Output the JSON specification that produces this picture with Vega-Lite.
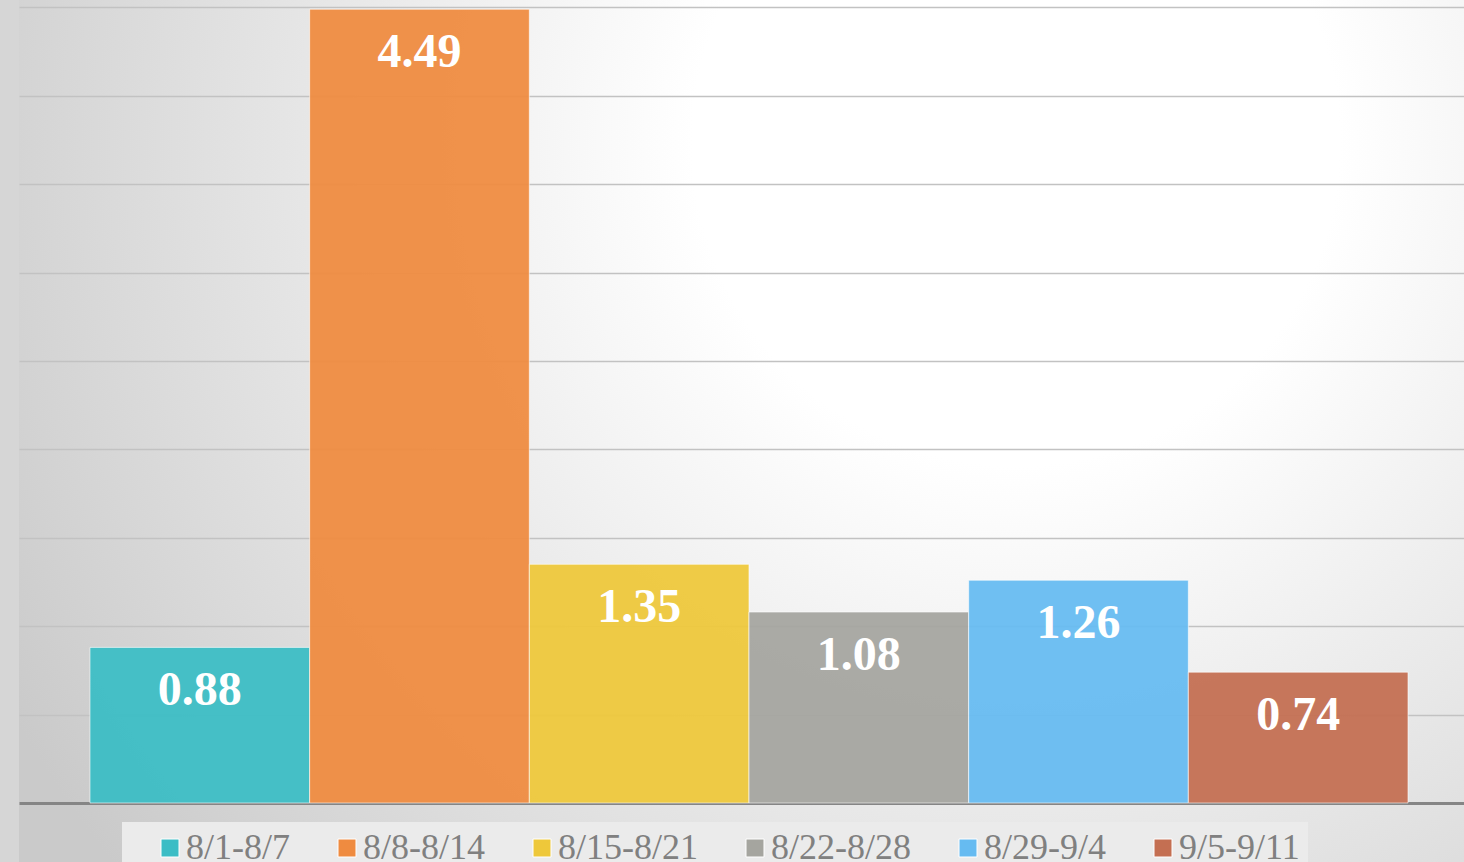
{
  "$schema": "https://vega.github.io/schema/vega-lite/v6.json",
  "width": 1445,
  "height": 862,
  "autosize": {"type": "none"},
  "padding": {"left": 19, "top": 0, "right": 0, "bottom": 0},
  "background": "#d6d6d6",
  "view": {
    "fill": {
      "gradient": "radial",
      "x1": 0.69, "y1": 0.3, "r1": 0,
      "x2": 0.69, "y2": 0.3, "r2": 0.8,
      "stops": [
        {"offset": 0, "color": "#ffffff"},
        {"offset": 0.28, "color": "#ffffff"},
        {"offset": 1, "color": "#cacaca"}
      ]
    },
    "stroke": null
  },
  "data": {
    "values": [
      {"week": "8/1-8/7", "value": 0.88},
      {"week": "8/8-8/14", "value": 4.49},
      {"week": "8/15-8/21", "value": 1.35},
      {"week": "8/22-8/28", "value": 1.08},
      {"week": "8/29-9/4", "value": 1.26},
      {"week": "9/5-9/11", "value": 0.74}
    ]
  },
  "encoding": {
    "x": {
      "field": "week",
      "type": "nominal",
      "sort": null,
      "scale": {"paddingInner": 0, "paddingOuter": 0.289, "align": 0.559},
      "axis": null
    },
    "y": {
      "field": "value",
      "type": "quantitative",
      "scale": {"domain": [-0.334, 4.542], "nice": false, "zero": false},
      "axis": {
        "values": [0, 0.5, 1, 1.5, 2, 2.5, 3, 3.5, 4, 4.5],
        "domain": false,
        "ticks": false,
        "labels": false,
        "title": null,
        "grid": true,
        "gridColor": {"condition": {"test": "datum.value === 0", "value": "#858585"}, "value": "#c2c2c2"},
        "gridWidth": {"condition": {"test": "datum.value === 0", "value": 3}, "value": 1.5}
      }
    }
  },
  "layer": [
    {
      "mark": {"type": "bar", "fillOpacity": 0.94, "stroke": "#ffffff", "strokeWidth": 1, "strokeOpacity": 0.6},
      "encoding": {
        "y2": {"datum": 0},
        "color": {
          "field": "week",
          "type": "nominal",
          "sort": null,
          "scale": {
            "domain": ["8/1-8/7", "8/8-8/14", "8/15-8/21", "8/22-8/28", "8/29-9/4", "9/5-9/11"],
            "range": ["#3bbdc5", "#ef8b40", "#eec83a", "#a5a59f", "#66bbf1", "#c46f52"]
          },
          "legend": {
            "orient": "none",
            "legendX": 103,
            "legendY": 822,
            "direction": "horizontal",
            "title": " ",
            "titleOrient": "left",
            "titleFontSize": 10,
            "titlePadding": 22,
            "fillColor": "#ebebeb",
            "padding": 8,
            "symbolType": "square",
            "symbolSize": 324,
            "symbolStrokeColor": "#ffffff",
            "symbolStrokeWidth": 1,
            "symbolOpacity": 1,
            "labelFont": "Liberation Serif",
            "labelFontSize": 36,
            "labelColor": "#808080",
            "labelOffset": -2,
            "labelLimit": 0,
            "columnPadding": 39,
            "labelExpr": "datum.label == '9/5-9/11' ? datum.label + '\u00a0\u00a0\u00a0' : datum.label"
          }
        }
      }
    },
    {
      "mark": {
        "type": "text",
        "dy": 58,
        "baseline": "alphabetic",
        "font": "Liberation Serif",
        "fontSize": 48,
        "fontWeight": "bold",
        "color": "#ffffff"
      },
      "encoding": {
        "text": {"field": "value", "type": "quantitative", "format": ".2f"}
      }
    }
  ]
}
